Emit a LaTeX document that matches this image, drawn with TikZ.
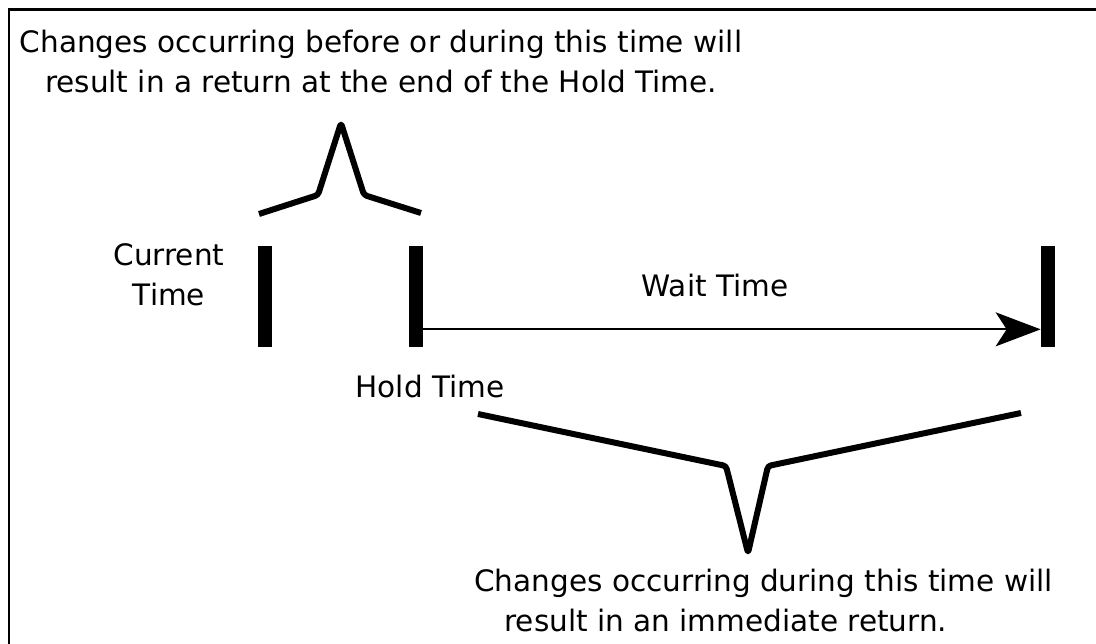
\documentclass[tikz,border=0pt]{standalone}
\usepackage{fontspec}
\setmainfont{DejaVu Sans}
\usepackage{tikz}
\usetikzlibrary{arrows.meta,positioning}

\begin{document}
\begin{tikzpicture}[x=0.02cm, y=-0.02cm, >={Stealth[length=0.9cm,width=0.68cm,inset=0.22cm]},
    lbl/.style={inner sep=0pt, font=\fontsize{16.8pt}{22.8pt}\selectfont, align=center},
    bar/.style={fill=black, inner sep=0pt, minimum width=0.28cm, minimum height=2.02cm},
    brace/.style={line width=0.12cm, line join=round, rounded corners=0.06cm}]
    \useasboundingbox (0,0) rectangle (1096,644);
    \draw[line width=0.06cm] (9,644) |- (1096,9.5);
    \foreach \n/\x in {cur/265, hold/415.5, wait/1048} {
        \node[bar] (\n) at (\x,296.5) {};
    }
    \draw[->, line width=0.04cm] ([yshift=0.36cm]hold.south east) -- ([yshift=0.36cm]wait.south west);
    \draw[brace] (259,214) -- (318,195) -- (341,123) -- (364,195) -- (421,213);
    \draw[brace] (478,414) -- (726,466) -- (748,553) -- (768,466) -- (1021,413);
    \node[lbl, anchor=north] (before) at (381,30) {Changes occurring before or during this time will\\result in a return at the end of the Hold Time.};
    \node[lbl, anchor=north] (current) at (169,243.5) {Current\\Time};
    \node[lbl, anchor=base] (waitlbl) at (715,297) {Wait Time};
    \node[lbl, anchor=base] (holdlbl) at (430,398) {Hold Time};
    \node[lbl, anchor=north west, align=left] (during) at (474,569) {Changes occurring during this time will\\\hspace*{0.6cm}result in an immediate return.};
\end{tikzpicture}
\end{document}
